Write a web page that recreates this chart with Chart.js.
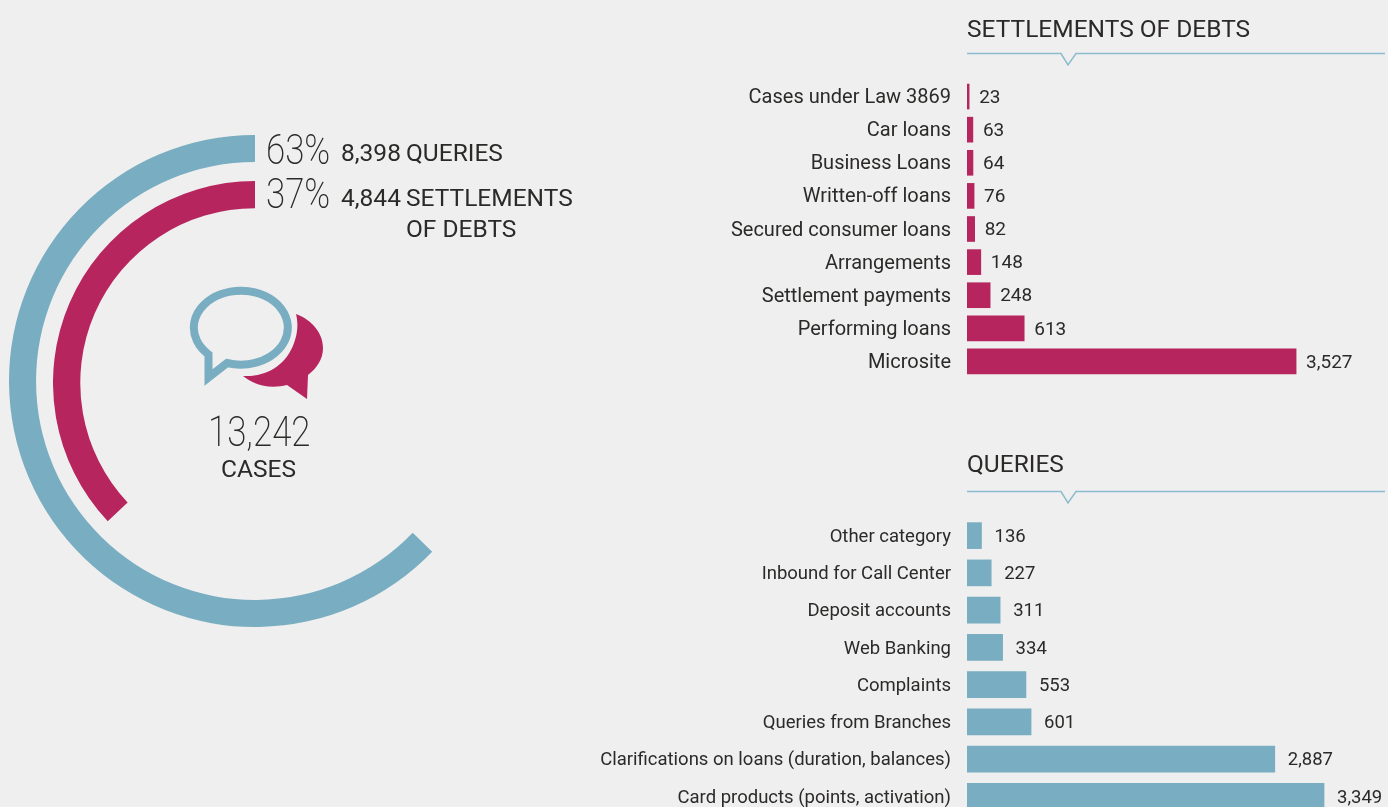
<!DOCTYPE html>
<html>
<head>
<meta charset="utf-8">
<title>Cases</title>
<script src="https://cdn.jsdelivr.net/npm/chart.js@4"></script>
<style>
html, body { margin: 0; height: 100%; background: #efefef; overflow: hidden; }
body { position: relative; width: 1388px; height: 807px; font-family: Roboto, sans-serif; color: #2b2a29; }
canvas { position: absolute; }
.txt { position: absolute; white-space: nowrap; font-size: 24.5px; line-height: 30px; }
.big { font-weight: 200; font-size: 42px; line-height: 42px; transform: scaleX(0.83); transform-origin: left top; }
svg { position: absolute; left: 0; top: 0; }
</style>
</head>
<body>
<canvas id="queryRing" width="492" height="492" style="left:9px;top:135px"></canvas>
<canvas id="settlementRing" width="404" height="404" style="left:53px;top:181px"></canvas>
<canvas id="settlementsChart" width="798" height="298" style="left:590px;top:80px"></canvas>
<canvas id="queriesChart" width="798" height="298" style="left:590px;top:517px"></canvas>

<svg width="1388" height="807">
  <polyline points="967,53.5 1061,53.5 1068,65 1076,53.5 1385,53.5" fill="none" stroke="#8bbccd" stroke-width="1.5"/>
  <polyline points="967,491.5 1061,491.5 1068,503 1076,491.5 1385,491.5" fill="none" stroke="#8bbccd" stroke-width="1.5"/>
  <path d="M243 376 C268 377 288 364 295 340 C298 331 298 322 296 314 C312 320 323 333 323 348 C323 359 317 368 308 375 L307 399 L287 385 C271 389 255 386 243 376 Z" fill="#b7255f"/>
  <path d="M208.5 354.5 L208.5 377.5 L227 363 A47 37 0 1 0 208.5 354.5 Z" fill="none" stroke="#79adc1" stroke-width="8"/>
</svg>

<div class="txt big" id="queryPct" style="left:266px;top:129px"></div>
<div class="txt" id="queryCount" style="left:341px;top:138px"></div>
<div class="txt" style="left:406px;top:138px">QUERIES</div>
<div class="txt big" id="settlePct" style="left:266px;top:173px"></div>
<div class="txt" id="settleCount" style="left:341px;top:183px"></div>
<div class="txt" style="left:406px;top:183px">SETTLEMENTS</div>
<div class="txt" style="left:406px;top:214px">OF DEBTS</div>
<div class="txt big" id="totalCases" style="left:208px;top:411px"></div>
<div class="txt" style="left:221px;top:454px">CASES</div>
<div class="txt" style="left:967px;top:14px">SETTLEMENTS OF DEBTS</div>
<div class="txt" style="left:967px;top:449px">QUERIES</div>

<script>
const crimson = "#b7255f";
const teal = "#79adc1";

const shareQueries = 63;
const shareSettlements = 37;
// arc lengths as measured on the picture, slightly off the printed percentages
const arcQueries = 62.8;
const arcSettlements = 37;
const countQueries = 8398;
const countSettlements = 4844;
const totalCount = 13242;

const settlementLabels = ["Cases under Law 3869", "Car loans", "Business Loans", "Written-off loans", "Secured consumer loans", "Arrangements", "Settlement payments", "Performing loans", "Microsite"];
const settlementValues = [23, 63, 64, 76, 82, 148, 248, 613, 3527];

const queryLabels = ["Other category", "Inbound for Call Center", "Deposit accounts", "Web Banking", "Complaints", "Queries from Branches", "Clarifications on loans (duration, balances)", "Card products (points, activation)"];
const queryValues = [136, 227, 311, 334, 553, 601, 2887, 3349];

function fmt(n) {
    return n.toLocaleString("en-US");
}

document.getElementById("queryPct").textContent = shareQueries + "%";
document.getElementById("settlePct").textContent = shareSettlements + "%";
document.getElementById("queryCount").textContent = fmt(countQueries);
document.getElementById("settleCount").textContent = fmt(countSettlements);
document.getElementById("totalCases").textContent = fmt(totalCount);

// empty part of the ring comes first so the coloured arc ends at 12 o'clock
function ring(id, share, color, cutout) {
    new Chart(document.getElementById(id), {
        type: "doughnut",
        data: {
            datasets: [{ data: [100 - share, share], backgroundColor: ["transparent", color], borderWidth: 0 }]
        },
        options: {
            responsive: false,
            animation: false,
            cutout: cutout,
            plugins: { legend: { display: false }, tooltip: { enabled: false } }
        }
    });
}

ring("queryRing", arcQueries, teal, "89%");
ring("settlementRing", arcSettlements, crimson, "86.5%");

// writes the number right of each bar
const valueLabels = {
    id: "valueLabels",
    afterDatasetsDraw(chart) {
        const ctx = chart.ctx;
        const bars = chart.getDatasetMeta(0).data;
        const opts = chart.options.plugins.valueLabels;
        ctx.save();
        ctx.font = opts.size + "px Roboto";
        ctx.fillStyle = "#2b2a29";
        ctx.textBaseline = "middle";
        bars.forEach((bar, i) => {
            ctx.fillText(fmt(chart.data.datasets[0].data[i]), bar.x + opts.gap, bar.y + 1.5);
        });
        ctx.restore();
    }
};

function barChart(id, labels, values, color, xMax, thickness, fontSize, valueSize, gap) {
    new Chart(document.getElementById(id), {
        type: "bar",
        data: {
            labels: labels,
            datasets: [{ data: values, backgroundColor: color, barThickness: thickness }]
        },
        options: {
            indexAxis: "y",
            responsive: false,
            animation: false,
            layout: { padding: 0 },
            scales: {
                x: { display: false, min: 0, max: xMax },
                y: {
                    afterFit(scale) {
                        scale.width = 377;
                        scale.paddingTop = 0;
                        scale.paddingBottom = 0;
                    },
                    grid: { display: false, drawTicks: false },
                    border: { display: false },
                    ticks: { color: "#2b2a29", font: { family: "Roboto", size: fontSize }, padding: 16, autoSkip: false, labelOffset: 1.5 }
                }
            },
            plugins: {
                legend: { display: false },
                tooltip: { enabled: false },
                valueLabels: { size: valueSize, gap: gap }
            }
        },
        plugins: [valueLabels]
    });
}

barChart("settlementsChart", settlementLabels, settlementValues, crimson, 4512, 25, 20, 19, 10);
barChart("queriesChart", queryLabels, queryValues, teal, 3949, 26, 18.5, 18.5, 13);
</script>
</body>
</html>
